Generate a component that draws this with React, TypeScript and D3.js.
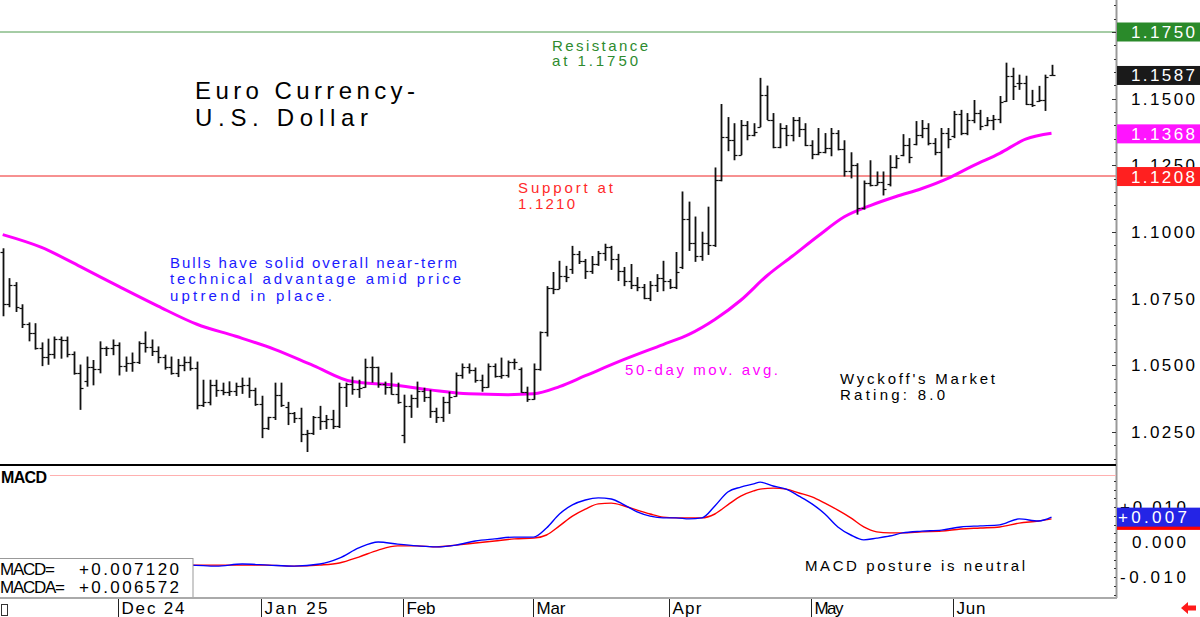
import React, { useEffect, useRef } from "react";
import * as d3 from "d3";

// daily bars, Nov 6 2024 -> Jun 2025
const highs = [
  1.0939, 1.0827, 1.0812, 1.0729, 1.0661, 1.0658, 1.0586, 1.06, 1.0608, 1.0608, 1.0608, 1.0552, 1.0503, 1.0533, 1.052, 1.059, 1.0571, 1.0597,
  1.0586, 1.0533, 1.0548, 1.059, 1.0627, 1.0597, 1.0571, 1.054, 1.0533, 1.0524, 1.0533, 1.0533, 1.0514, 1.0446, 1.0446, 1.0446, 1.0435, 1.044, 1.0435, 1.0454, 1.0454, 1.0416,
  1.0386, 1.0307, 1.0435, 1.0435, 1.0363, 1.0325, 1.0341, 1.0258, 1.031, 1.0348, 1.0314, 1.0333, 1.0435, 1.0435, 1.0458, 1.0446, 1.0525, 1.0533, 1.0495, 1.0439, 1.0473, 1.0435,
  1.039, 1.039, 1.0439, 1.0416, 1.0408, 1.0341, 1.0382, 1.0401, 1.0473, 1.0507, 1.0507, 1.0492, 1.0465, 1.0507, 1.0507, 1.0529, 1.0518, 1.0525, 1.0492, 1.042,
  1.0507, 1.0627, 1.0797, 1.085, 1.0892, 1.0873, 1.0948, 1.0929, 1.0899, 1.091, 1.0929, 1.0956, 1.0948, 1.0918, 1.0869, 1.088, 1.0831, 1.0805, 1.0816, 1.0842, 1.0892,
  1.0824, 1.0925, 1.1152, 1.1114, 1.1058, 1.1001, 1.1095, 1.1242, 1.148, 1.1431, 1.1408, 1.142, 1.1416, 1.1408, 1.1578, 1.1549, 1.1446, 1.1408, 1.1401, 1.1431, 1.1431, 1.1408,
  1.1344, 1.139, 1.1371, 1.139, 1.1382, 1.1344, 1.1299, 1.1258, 1.1193, 1.1269, 1.1227, 1.1227, 1.1288, 1.1288, 1.1367, 1.1352, 1.1416, 1.142, 1.1408, 1.1352, 1.139, 1.139,
  1.1454, 1.1458, 1.1446, 1.1495, 1.1458, 1.1431, 1.1439, 1.151, 1.1635, 1.1616, 1.159, 1.1586, 1.1533, 1.1548, 1.159, 1.1627,
];
const lows = [
  1.0684, 1.0718, 1.07, 1.064, 1.059, 1.0559, 1.0497, 1.0502, 1.0525, 1.0525, 1.053, 1.0465, 1.0333, 1.042, 1.0425, 1.047, 1.0535, 1.0538,
  1.0462, 1.0476, 1.0476, 1.0505, 1.0548, 1.0535, 1.0508, 1.0484, 1.0465, 1.0456, 1.0478, 1.048, 1.0335, 1.0344, 1.035, 1.0382, 1.0388, 1.0385, 1.0385, 1.0393, 1.0378, 1.0348,
  1.0227, 1.0258, 1.0295, 1.0344, 1.0276, 1.0284, 1.0212, 1.0175, 1.0239, 1.0258, 1.0261, 1.0261, 1.0265, 1.0344, 1.039, 1.0378, 1.0416, 1.0435, 1.0416, 1.039, 1.039, 1.0356,
  1.0208, 1.0303, 1.0341, 1.0363, 1.0303, 1.0284, 1.0288, 1.0318, 1.0382, 1.045, 1.0469, 1.0435, 1.0401, 1.0416, 1.0454, 1.045, 1.0454, 1.0484, 1.0397, 1.0363,
  1.0371, 1.048, 1.0608, 1.0767, 1.0786, 1.0812, 1.0843, 1.088, 1.0824, 1.0843, 1.0873, 1.0892, 1.0858, 1.0816, 1.0797, 1.0786, 1.0778, 1.0748, 1.0741, 1.0775, 1.0778,
  1.0786, 1.0786, 1.0861, 1.0929, 1.0888, 1.0892, 1.0914, 1.0944, 1.119, 1.1303, 1.1269, 1.1288, 1.1344, 1.1359, 1.1393, 1.142, 1.1314, 1.1314, 1.1322, 1.134, 1.1356, 1.1322,
  1.1273, 1.1288, 1.1295, 1.1284, 1.1306, 1.1208, 1.1201, 1.1065, 1.1084, 1.1171, 1.1175, 1.1137, 1.1171, 1.1238, 1.1284, 1.1258, 1.1325, 1.1352, 1.1325, 1.1288, 1.1208, 1.1314,
  1.1352, 1.1363, 1.1363, 1.1408, 1.1382, 1.1397, 1.1382, 1.1408, 1.1488, 1.1495, 1.1533, 1.1476, 1.1469, 1.1488, 1.1454, 1.1586,
];
const opens = [
  1.0925, 1.073, 1.08, 1.0715, 1.0655, 1.0622, 1.0565, 1.053, 1.0541, 1.0598, 1.0596, 1.0543, 1.0471, 1.044, 1.0495, 1.0488, 1.0566, 1.0566,
  1.0578, 1.0498, 1.051, 1.0511, 1.0585, 1.0567, 1.0553, 1.053, 1.0495, 1.047, 1.0502, 1.0513, 1.049, 1.0352, 1.0364, 1.0428, 1.0406, 1.04, 1.0405, 1.0421, 1.0427, 1.0406,
  1.0354, 1.0265, 1.0307, 1.0388, 1.0342, 1.032, 1.0301, 1.0244, 1.0245, 1.0308, 1.0293, 1.03, 1.0272, 1.042, 1.043, 1.041, 1.042, 1.0494, 1.0492, 1.0431, 1.042, 1.0391,
  1.024, 1.0346, 1.0378, 1.0402, 1.038, 1.0328, 1.0306, 1.0362, 1.0385, 1.0465, 1.0493, 1.0483, 1.0445, 1.042, 1.0496, 1.046, 1.0463, 1.0513, 1.0485, 1.04,
  1.0375, 1.0486, 1.0625, 1.079, 1.0787, 1.0834, 1.086, 1.0917, 1.089, 1.0853, 1.088, 1.0922, 1.0944, 1.0897, 1.0853, 1.0816, 1.08, 1.0792, 1.0754, 1.08, 1.0828,
  1.0817, 1.0793, 1.087, 1.1048, 1.0958, 1.091, 1.0959, 1.095, 1.1195, 1.1357, 1.1346, 1.129, 1.14, 1.1365, 1.1395, 1.1515, 1.142, 1.132, 1.139, 1.1365, 1.1421, 1.1386,
  1.1328, 1.1292, 1.13, 1.1316, 1.1372, 1.131, 1.123, 1.1252, 1.109, 1.1185, 1.1176, 1.1187, 1.118, 1.1242, 1.129, 1.1327, 1.133, 1.1364, 1.1389, 1.1335, 1.13, 1.137,
  1.136, 1.1442, 1.137, 1.142, 1.1445, 1.14, 1.142, 1.1422, 1.149, 1.1585, 1.156, 1.156, 1.148, 1.149, 1.1495, 1.159,
];
const closes = [
  1.073, 1.08, 1.072, 1.0655, 1.0622, 1.0565, 1.053, 1.0541, 1.0598, 1.0596, 1.0543, 1.0471, 1.0416, 1.0495, 1.0488, 1.0566, 1.0566, 1.0577,
  1.0498, 1.051, 1.0511, 1.0585, 1.0567, 1.0553, 1.053, 1.0495, 1.047, 1.0502, 1.0513, 1.049, 1.0352, 1.0364, 1.0428, 1.0406, 1.04, 1.0405, 1.0421, 1.0427, 1.0406, 1.0354,
  1.0265, 1.0307, 1.0388, 1.035, 1.032, 1.0301, 1.0244, 1.0245, 1.0308, 1.0293, 1.03, 1.0272, 1.042, 1.043, 1.041, 1.0414, 1.0494, 1.0492, 1.0431, 1.042, 1.0391, 1.0362,
  1.0346, 1.0378, 1.0402, 1.038, 1.0328, 1.0306, 1.0362, 1.0381, 1.0465, 1.0493, 1.0483, 1.0445, 1.042, 1.0496, 1.046, 1.0463, 1.0513, 1.0513, 1.04, 1.0375,
  1.0486, 1.0625, 1.079, 1.0787, 1.0834, 1.0833, 1.0917, 1.089, 1.0853, 1.088, 1.0922, 1.0944, 1.0897, 1.0853, 1.0816, 1.08, 1.0792, 1.0754, 1.08, 1.0828, 1.0817,
  1.0793, 1.085, 1.1048, 1.0958, 1.091, 1.0959, 1.095, 1.1195, 1.1357, 1.1346, 1.129, 1.14, 1.1365, 1.1375, 1.1515, 1.142, 1.132, 1.139, 1.1365, 1.1421, 1.1386, 1.1328,
  1.1292, 1.13, 1.1316, 1.1372, 1.131, 1.123, 1.1252, 1.109, 1.1185, 1.1176, 1.1187, 1.1163, 1.1242, 1.1278, 1.1327, 1.1282, 1.1364, 1.1389, 1.1335, 1.13, 1.137, 1.1347,
  1.1442, 1.137, 1.142, 1.1445, 1.1397, 1.142, 1.1422, 1.1487, 1.1585, 1.1548, 1.156, 1.148, 1.1478, 1.1495, 1.158, 1.1587,
];

// 50-day moving average, sampled from the chart (bar index -> value)
const maIdx = [0, 6, 12, 18, 24, 30, 36, 42, 48, 54, 60, 66, 72, 78, 82, 86, 90, 96, 102, 106, 110, 114, 118, 122, 126, 130, 134, 138, 142, 146, 150, 154, 158, 162];
const maVal = [1.099, 1.0942, 1.087, 1.0795, 1.0722, 1.0654, 1.0609, 1.056, 1.0499, 1.0439, 1.0427, 1.0408, 1.0393, 1.039, 1.0393, 1.042, 1.0461, 1.0522, 1.0578, 1.0616, 1.0672, 1.0744, 1.0835, 1.091, 1.0986, 1.1057, 1.1099, 1.1133, 1.1163, 1.1201, 1.125, 1.1295, 1.1348, 1.137];

// MACD and its average, sampled from the lower panel
const macdIdx = [27, 29, 33, 37, 41, 45, 49, 52, 55, 58, 61, 64, 67, 70, 73, 76, 79, 82, 84, 86, 88, 90, 92, 94, 96, 98, 100, 102, 104, 106, 108, 110, 112, 114, 116, 117, 119, 121, 123, 125, 127, 129, 131, 133, 135, 137, 139, 142, 145, 148, 151, 154, 157, 160, 162];
const macdVal = [-0.0066, -0.0066, -0.0069, -0.0063, -0.0066, -0.0069, -0.0063, -0.0046, -0.0017, 0.0, -0.0006, -0.0011, -0.0014, -0.0009, 0.0003, 0.0009, 0.0014, 0.0014, 0.004, 0.008, 0.0106, 0.012, 0.0126, 0.0123, 0.0106, 0.0086, 0.0074, 0.0069, 0.0069, 0.0066, 0.0069, 0.0103, 0.0143, 0.0157, 0.0166, 0.0171, 0.016, 0.0151, 0.0131, 0.0109, 0.008, 0.0043, 0.002, 0.0006, 0.0011, 0.0017, 0.0026, 0.0031, 0.0034, 0.0043, 0.0046, 0.0049, 0.0066, 0.006, 0.0071];
const macdaVal = [-0.0066, -0.0066, -0.0066, -0.0066, -0.0066, -0.0069, -0.0066, -0.006, -0.0043, -0.0023, -0.0011, -0.0011, -0.0014, -0.0009, -0.0003, 0.0003, 0.0009, 0.0011, 0.002, 0.0046, 0.0074, 0.0094, 0.0109, 0.0111, 0.0103, 0.0091, 0.008, 0.0071, 0.0069, 0.0069, 0.0069, 0.008, 0.0106, 0.0131, 0.0146, 0.0151, 0.0154, 0.0151, 0.014, 0.0129, 0.0111, 0.0091, 0.0069, 0.0043, 0.0029, 0.0026, 0.0026, 0.0029, 0.0031, 0.0037, 0.004, 0.0043, 0.0054, 0.006, 0.0066];

const monthNames = ["Dec 24", "Jan 25", "Feb", "Mar", "Apr", "May", "Jun"];
const monthStart = [18, 40, 62, 82, 103, 125, 147];
const priceTicks = [1.025, 1.05, 1.075, 1.1, 1.125, 1.15, 1.175];
const macdTicks = [0.01, 0, -0.01];

const FONT = "'Liberation Sans', Arial, sans-serif";

export default function App() {
  const svgRef = useRef<SVGSVGElement>(null);

  useEffect(() => {
    const svg = d3.select(svgRef.current);
    svg.selectAll("*").remove();

    const x = d3.scaleLinear().domain([0, 162]).range([2.7, 1051.5]);
    const y = d3.scaleLinear().domain([1.025, 1.175]).range([432, 32]);
    const ym = d3.scaleLinear().domain([-0.01, 0.01]).range([577, 507]);
    const axisX = 1116;

    const text = (g: any, t: string, tx: number, ty: number, o: any = {}) => {
      const el = g.append("text")
        .attr("x", tx)
        .attr("y", ty)
        .attr("font-family", FONT)
        .attr("font-size", o.size || 15)
        .attr("fill", o.fill || "#000")
        .attr("font-weight", o.weight || "normal")
        .attr("text-anchor", o.anchor || "start")
        .text(t);
      if (o.len) el.attr("textLength", o.len).attr("lengthAdjust", "spacing");
      return el;
    };

    // reference lines
    svg.append("line").attr("x1", 0).attr("x2", axisX).attr("y1", y(1.175)).attr("y2", y(1.175))
      .attr("stroke", "#4c9a4c").attr("stroke-width", 1);
    svg.append("line").attr("x1", 0).attr("x2", axisX).attr("y1", y(1.121)).attr("y2", y(1.121))
      .attr("stroke", "#ee2222").attr("stroke-width", 1);

    // 50-day moving average
    const maLine = d3.line<number>()
      .x((d, i) => x(maIdx[i]))
      .y((d) => y(d))
      .curve(d3.curveMonotoneX);
    svg.append("path").attr("d", maLine(maVal)).attr("fill", "none")
      .attr("stroke", "#ff00ff").attr("stroke-width", 3);

    // OHLC bars
    const bars = svg.append("g").attr("stroke", "#111");
    highs.forEach((h, i) => {
      const bx = Math.round(x(i)) + 0.5;
      bars.append("line").attr("x1", bx).attr("x2", bx).attr("y1", y(h)).attr("y2", y(lows[i]))
        .attr("stroke-width", 1.8);
      bars.append("line").attr("x1", bx - 3).attr("x2", bx).attr("y1", Math.round(y(opens[i])) + 0.5)
        .attr("y2", Math.round(y(opens[i])) + 0.5).attr("stroke-width", 1.2);
      bars.append("line").attr("x1", bx).attr("x2", bx + 3).attr("y1", Math.round(y(closes[i])) + 0.5)
        .attr("y2", Math.round(y(closes[i])) + 0.5).attr("stroke-width", 1.2);
    });

    // annotations
    text(svg, "Euro Currency-", 195, 99, { size: 24, len: 220 });
    text(svg, "U.S. Dollar", 195, 126, { size: 24, len: 173 });
    text(svg, "Resistance", 552, 51, { size: 15, fill: "#2e8b2e", len: 96 });
    text(svg, "at 1.1750", 552, 66, { size: 15, fill: "#2e8b2e", len: 86 });
    text(svg, "Support at", 518, 193, { size: 15, fill: "#ff2a2a", len: 95 });
    text(svg, "1.1210", 518, 209, { size: 15, fill: "#ff2a2a", len: 57 });
    text(svg, "Bulls have solid overall near-term", 170, 268, { size: 15, fill: "#1a1aff", len: 287 });
    text(svg, "technical advantage amid price", 170, 284, { size: 15, fill: "#1a1aff", len: 291 });
    text(svg, "uptrend in place.", 170, 301, { size: 15, fill: "#1a1aff", len: 162 });
    text(svg, "50-day mov. avg.", 625, 375, { size: 15, fill: "#ff00ff", len: 153 });
    text(svg, "Wyckoff's Market", 840, 384, { size: 15, len: 155 });
    text(svg, "Rating: 8.0", 840, 400, { size: 15, len: 105 });

    // price axis
    svg.append("line").attr("x1", axisX + 0.5).attr("x2", axisX + 0.5).attr("y1", 0).attr("y2", 598)
      .attr("stroke", "#999").attr("stroke-width", 2);
    const minor = d3.range(1.015, 1.2, 0.005).filter((p) => y(p) > 2 && y(p) < 462);
    minor.forEach((p) => {
      const major = priceTicks.some((t) => Math.abs(t - p) < 1e-6);
      svg.append("line").attr("x1", axisX - (major ? 4 : 2)).attr("x2", axisX)
        .attr("y1", Math.round(y(p)) + 0.5).attr("y2", Math.round(y(p)) + 0.5).attr("stroke", "#333");
    });
    priceTicks.forEach((p) => {
      text(svg, d3.format(".4f")(p), 1195, y(p) + 6, { size: 17, anchor: "end", len: 64 });
    });

    // value boxes on the right
    const box = (v: number, fill: string) => {
      svg.append("rect").attr("x", axisX + 1).attr("y", y(v) - 9.5).attr("width", 1200 - axisX).attr("height", 19)
        .attr("fill", fill);
      text(svg, d3.format(".4f")(v), 1195, y(v) + 6, { size: 17, anchor: "end", fill: "#fff", len: 64 });
    };
    box(1.175, "#2a8a2a");
    box(1.1587, "#1a1a1a");
    box(1.1368, "#ff14ff");
    box(1.1208, "#ff2020");

    // panel separators
    svg.append("line").attr("x1", 0).attr("x2", axisX).attr("y1", 465).attr("y2", 465)
      .attr("stroke", "#000").attr("stroke-width", 2);
    svg.append("line").attr("x1", 50).attr("x2", axisX).attr("y1", 475.5).attr("y2", 475.5)
      .attr("stroke", "#ffb0b0").attr("stroke-width", 1);
    text(svg, "MACD", 1, 483, { size: 16, weight: "bold", len: 46 });

    // MACD lines
    const macdLine = d3.line<number>()
      .x((d, i) => x(macdIdx[i]))
      .y((d) => ym(d))
      .curve(d3.curveMonotoneX);
    svg.append("path").attr("d", macdLine(macdaVal)).attr("fill", "none")
      .attr("stroke", "#ff0000").attr("stroke-width", 1.4);
    svg.append("path").attr("d", macdLine(macdVal)).attr("fill", "none")
      .attr("stroke", "#0000ff").attr("stroke-width", 1.4);

    // MACD axis
    d3.range(-0.015, 0.018, 0.0025).filter((v) => ym(v) > 468 && ym(v) < 596).forEach((v) => {
      svg.append("line").attr("x1", axisX - 2).attr("x2", axisX)
        .attr("y1", Math.round(ym(v)) + 0.5).attr("y2", Math.round(ym(v)) + 0.5).attr("stroke", "#333");
    });
    macdTicks.forEach((v) => {
      const s = v > 0 ? "+0.010" : v < 0 ? "-0.010" : "0.000";
      text(svg, s, 1186, ym(v) + 6, { size: 17, anchor: "end", len: s.length === 6 ? 66 : 54 });
    });
    svg.append("rect").attr("x", axisX + 1).attr("y", ym(0.0066) - 8).attr("width", 1200 - axisX)
      .attr("height", 19).attr("fill", "#ff0000");
    svg.append("rect").attr("x", axisX + 1).attr("y", ym(0.0071) - 9.5).attr("width", 1200 - axisX)
      .attr("height", 19).attr("fill", "#2424e6");
    text(svg, "+0.007", 1118, ym(0.0071) + 6, { size: 17, fill: "#fff", len: 69 });

    text(svg, "MACD posture is neutral", 805, 571, { size: 15, len: 220 });

    // legend box
    svg.append("rect").attr("x", -1).attr("y", 558.5).attr("width", 194).attr("height", 40)
      .attr("fill", "#fff").attr("stroke", "#999");
    text(svg, "MACD=", 0, 575, { size: 17, len: 55 });
    text(svg, "+0.007120", 79, 575, { size: 17, len: 100 });
    text(svg, "MACDA=", 0, 593, { size: 17, len: 65 });
    text(svg, "+0.006572", 79, 593, { size: 17, len: 100 });

    // date axis
    svg.append("line").attr("x1", 0).attr("x2", axisX + 1).attr("y1", 598).attr("y2", 598)
      .attr("stroke", "#aaa").attr("stroke-width", 2);
    monthStart.forEach((m, i) => {
      const mx = Math.round(x(m)) - 0.5;
      svg.append("line").attr("x1", mx).attr("x2", mx).attr("y1", 599).attr("y2", 617)
        .attr("stroke", "#222");
      text(svg, monthNames[i], mx + 3, 614, { size: 17, len: monthNames[i].length > 3 ? 63 : 29 });
    });
    svg.append("rect").attr("x", 1.5).attr("y", 604.5).attr("width", 6).attr("height", 11)
      .attr("fill", "none").attr("stroke", "#333");

    // little red arrow in the corner
    svg.append("path").attr("d", "M1181,608 L1188,602 L1188,605.5 L1196,605.5 L1196,610.5 L1188,610.5 L1188,614 Z")
      .attr("fill", "#ff1a1a");
  }, []);

  return (
    <svg ref={svgRef} width={1200} height={617}
      style={{ position: "absolute", left: 0, top: 0, background: "#fff" }} />
  );
}
